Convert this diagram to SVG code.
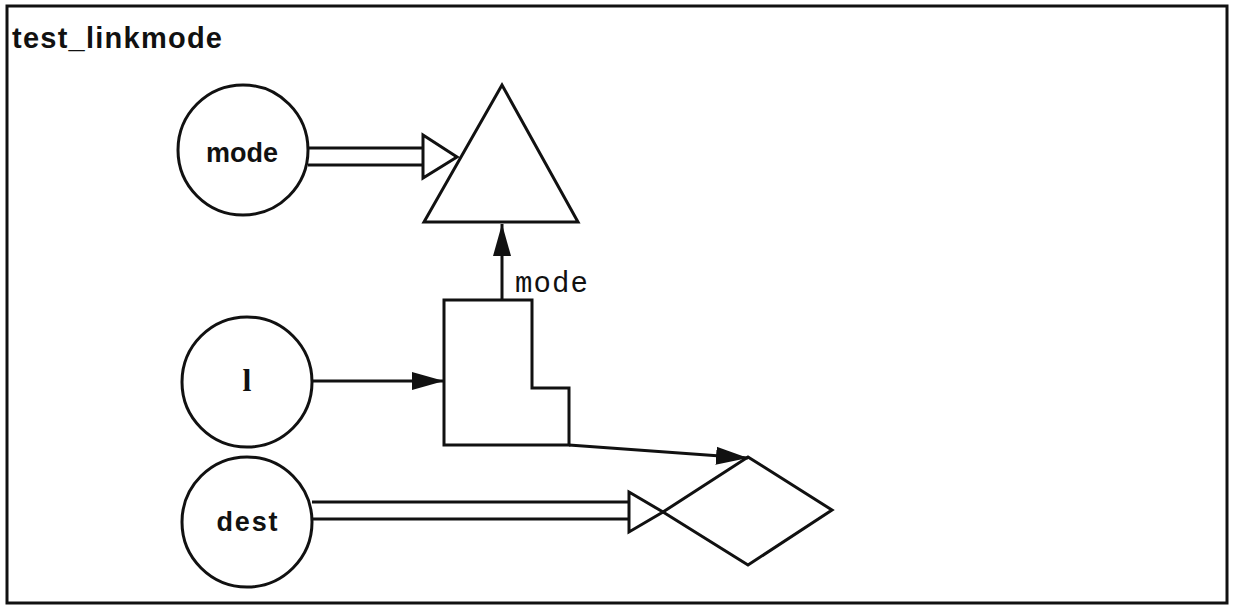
<svg xmlns="http://www.w3.org/2000/svg" width="1234" height="608" viewBox="0 0 1234 608">
<style>
.ln{fill:none;stroke:#111;stroke-width:3;stroke-linejoin:miter}
.sh{fill:#fff;stroke:#111;stroke-width:3}
.hd{fill:#fff;stroke:#111;stroke-width:3;stroke-linejoin:miter}
.lbl{font-family:"Liberation Sans",Arial,sans-serif;font-weight:bold;fill:#111;text-anchor:middle}
.mono{font-family:"Liberation Mono","Courier New",monospace;fill:#111}
</style>
<defs>
<marker id="fa" viewBox="0 0 32 20" refX="32" refY="10" markerWidth="32" markerHeight="20" markerUnits="userSpaceOnUse" orient="auto">
<path d="M0,1 L32,10 L0,19 Z" fill="#111"/>
</marker>
</defs>
<rect width="1234" height="608" fill="#fff"/>
<rect x="7" y="6" width="1220" height="597" fill="none" stroke="#111" stroke-width="3"/>
<text x="12" y="48" font-family="Liberation Sans,Arial,sans-serif" font-weight="bold" font-size="29" fill="#111" textLength="210">test_linkmode</text>

<g id="node-mode">
<circle class="sh" cx="243" cy="150" r="65"/>
<text class="lbl" x="242" y="162" font-size="27" textLength="72">mode</text>
</g>
<g id="node-triangle">
<polygon class="sh" points="502,85 424,222 578,222"/>
</g>
<g id="node-l">
<circle class="sh" cx="247" cy="382" r="65"/>
<text x="247" y="391" font-family="Liberation Serif,'Times New Roman',serif" font-weight="bold" font-size="32" fill="#111" text-anchor="middle">l</text>
</g>
<g id="node-box">
<polygon class="sh" points="444,300 532,300 532,388 569,388 569,445 444,445"/>
</g>
<g id="node-dest">
<circle class="sh" cx="247" cy="522" r="65"/>
<text class="lbl" x="247" y="531" font-size="27" textLength="61">dest</text>
</g>
<g id="node-diamond">
<polygon class="sh" points="748,457 832,510 748,565 663,512"/>
</g>

<g id="connectors">
<line class="ln" x1="308" y1="148" x2="443" y2="148"/>
<line class="ln" x1="308" y1="165" x2="444" y2="165"/>
<polygon class="hd" points="423,135 457,157 423,178"/>
<line class="ln" x1="502" y1="300" x2="502" y2="224" marker-end="url(#fa)"/>
<text class="mono" x="515" y="292" font-size="29" textLength="73">mode</text>
<line class="ln" x1="312" y1="381" x2="444" y2="381" marker-end="url(#fa)"/>
<line class="ln" x1="569" y1="445" x2="748" y2="458" marker-end="url(#fa)"/>
<line class="ln" x1="312" y1="502" x2="646" y2="502"/>
<line class="ln" x1="312" y1="519" x2="651" y2="519"/>
<polygon class="hd" points="629,492 663,512 629,532"/>
</g>
</svg>
